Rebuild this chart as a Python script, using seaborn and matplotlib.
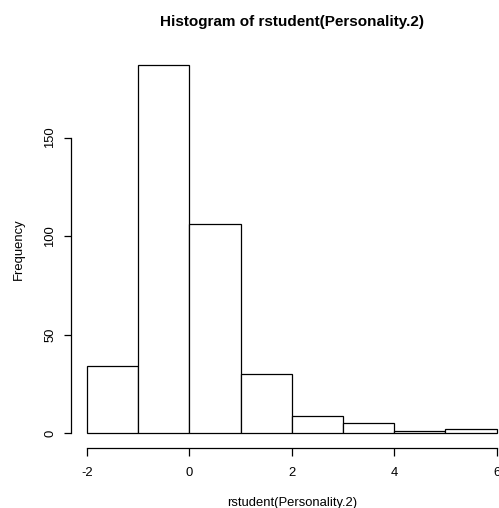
import matplotlib
matplotlib.use("Agg")
import matplotlib.pyplot as plt
import seaborn as sns
import numpy as np
import pandas as pd

# Histogram bins of studentized residuals and their counts
bin_edges = [-2, -1, 0, 1, 2, 3, 4, 5, 6]
counts = [34, 187, 106, 30, 9, 5, 1, 2]
x_ticks = [-2, 0, 2, 4, 6]
y_ticks = [0, 50, 100, 150]

centers = [(a + b) / 2 for a, b in zip(bin_edges[:-1], bin_edges[1:])]
df = pd.DataFrame({"rstudent": centers, "freq": counts})

sns.set_theme(style="white")
plt.rcParams["font.family"] = ["Liberation Sans", "DejaVu Sans"]
plt.rcParams["text.color"] = "black"
plt.rcParams["axes.labelcolor"] = "black"

W, H = 499, 508
fig = plt.figure(figsize=(W / 100, H / 100), dpi=100)
# plot region in pixels (R-style 4% padding beyond data range)
left_px, right_px, top_px, bottom_px = 70.6, 513.0, 50.0, 448.0
ax = fig.add_axes([left_px / W, 1 - bottom_px / H,
                   (right_px - left_px) / W, (bottom_px - top_px) / H])

sns.histplot(data=df, x="rstudent", weights="freq", bins=bin_edges,
             color="white", edgecolor="black", linewidth=0.9, alpha=1,
             ax=ax)

xr = bin_edges[-1] - bin_edges[0]
ax.set_xlim(bin_edges[0] - 0.04 * xr, bin_edges[-1] + 0.04 * xr)
ymax = max(counts)
ax.set_ylim(-0.04 * ymax, ymax * 1.04)

for s in ["top", "right"]:
    ax.spines[s].set_visible(False)
for s in ["left", "bottom"]:
    ax.spines[s].set_color("black")
    ax.spines[s].set_linewidth(0.9)
ax.spines["bottom"].set_bounds(x_ticks[0], x_ticks[-1])
ax.spines["left"].set_bounds(y_ticks[0], y_ticks[-1])

fs = 9.4
ax.set_xticks(x_ticks)
ax.set_xticklabels([str(v) for v in x_ticks])
ax.set_yticks(y_ticks)
ax.set_yticklabels([str(v) for v in y_ticks], rotation=90, va="center")
ax.tick_params(axis="both", which="major", direction="out", length=5.4,
               width=0.9, color="black", labelsize=fs, labelcolor="black",
               bottom=True, left=True)
ax.tick_params(axis="x", pad=8.5)
ax.tick_params(axis="y", pad=5)

ax.set_xlabel("rstudent(Personality.2)", fontsize=fs, labelpad=13, color="black")
ax.set_ylabel("Frequency", fontsize=fs, labelpad=14, color="black")
fig.text((left_px + right_px) / 2 / W, 1 - 22 / H,
         "Histogram of rstudent(Personality.2)",
         ha="center", va="center", fontsize=11, fontweight="bold",
         color="black")

fig.savefig("out.png", dpi=100, facecolor="white")
